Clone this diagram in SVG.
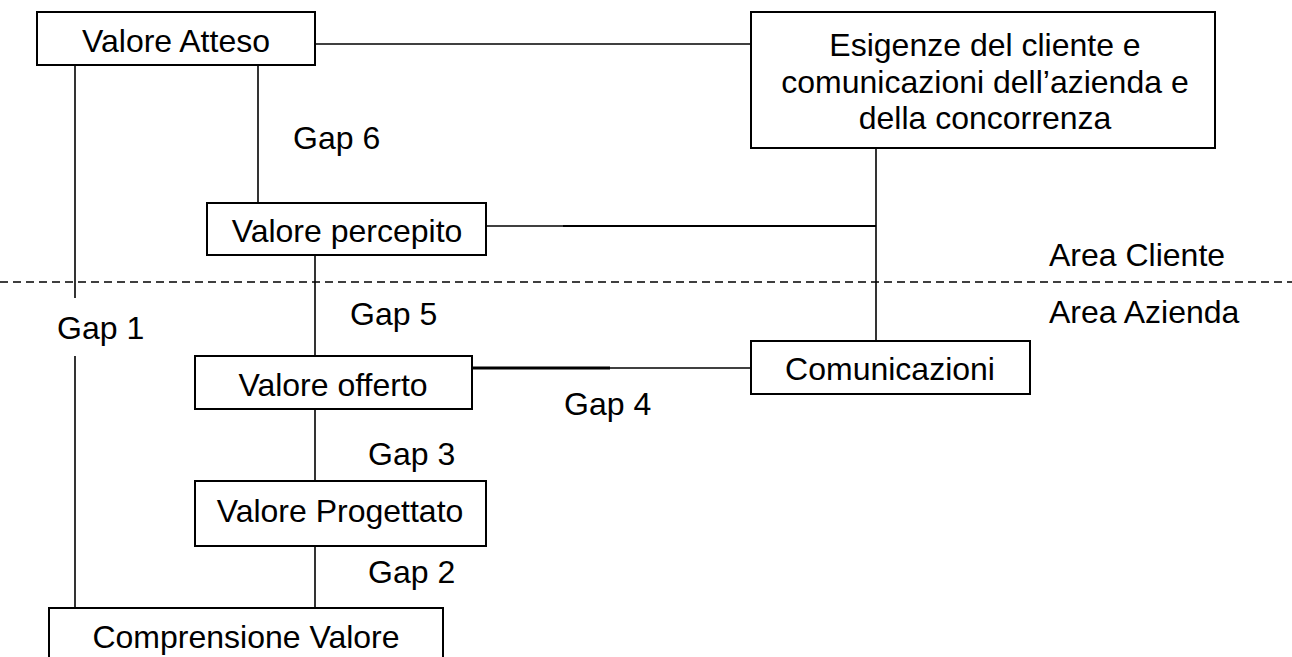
<svg xmlns="http://www.w3.org/2000/svg" width="1292" height="657" viewBox="0 0 1292 657">
  <style>
    .box { fill: #ffffff; stroke: #000000; stroke-width: 2; }
    .wire { stroke: #000000; stroke-width: 1.6; fill: none; }
    .firm { stroke: #000000; stroke-width: 2.2; fill: none; }
    .heavy { stroke: #000000; stroke-width: 3; fill: none; }
    .split { stroke: #000000; stroke-width: 1.6; stroke-dasharray: 8 5; fill: none; }
    text { font-family: "Liberation Sans", Arial, sans-serif; font-size: 32px; fill: #000000; }
    .mid { text-anchor: middle; }
  </style>
  <rect width="1292" height="657" fill="#ffffff"/>

  <!-- boundary between customer area and company area -->
  <line class="split" x1="0" y1="282" x2="1292" y2="282"/>

  <g id="connectors">
    <line class="wire" x1="315" y1="44" x2="751" y2="44"/>
    <line class="wire" x1="75" y1="65" x2="75" y2="298"/>
    <line class="wire" x1="75" y1="356" x2="75" y2="608"/>
    <line class="wire" x1="258" y1="65" x2="258" y2="203"/>
    <line class="wire" x1="486" y1="226" x2="876" y2="226"/>
    <line class="firm" x1="563" y1="226" x2="876" y2="226"/>
    <line class="wire" x1="876" y1="148" x2="876" y2="341"/>
    <line class="wire" x1="315" y1="255" x2="315" y2="356"/>
    <line class="wire" x1="472" y1="368" x2="751" y2="368"/>
    <line class="heavy" x1="472" y1="368" x2="610" y2="368"/>
    <line class="wire" x1="315" y1="409" x2="315" y2="481"/>
    <line class="wire" x1="315" y1="546" x2="315" y2="608"/>
  </g>

  <g id="labels">
    <text x="293" y="149">Gap 6</text>
    <text x="57" y="339">Gap 1</text>
    <text x="350" y="325">Gap 5</text>
    <text x="564" y="415">Gap 4</text>
    <text x="368" y="465">Gap 3</text>
    <text x="368" y="583">Gap 2</text>
    <text x="1049" y="266">Area Cliente</text>
    <text x="1049" y="323">Area Azienda</text>
  </g>

  <g id="valore-atteso">
    <rect class="box" x="37" y="12" width="278" height="53"/>
    <text class="mid" x="176" y="52">Valore Atteso</text>
  </g>

  <g id="esigenze">
    <rect class="box" x="751" y="12" width="464" height="136"/>
    <text class="mid" x="985" y="56">Esigenze del cliente e</text>
    <text class="mid" x="985" y="93">comunicazioni dell’azienda e</text>
    <text class="mid" x="985" y="129">della concorrenza</text>
  </g>

  <g id="valore-percepito">
    <rect class="box" x="207" y="203" width="279" height="52"/>
    <text class="mid" x="347" y="242">Valore percepito</text>
  </g>

  <g id="valore-offerto">
    <rect class="box" x="195" y="356" width="277" height="53"/>
    <text class="mid" x="333" y="396">Valore offerto</text>
  </g>

  <g id="comunicazioni">
    <rect class="box" x="751" y="341" width="279" height="53"/>
    <text class="mid" x="890" y="380">Comunicazioni</text>
  </g>

  <g id="valore-progettato">
    <rect class="box" x="195" y="481" width="291" height="65"/>
    <text class="mid" x="340" y="522">Valore Progettato</text>
  </g>

  <g id="comprensione-valore">
    <rect class="box" x="49" y="608" width="394" height="70"/>
    <text class="mid" x="246" y="648">Comprensione Valore</text>
  </g>
</svg>
